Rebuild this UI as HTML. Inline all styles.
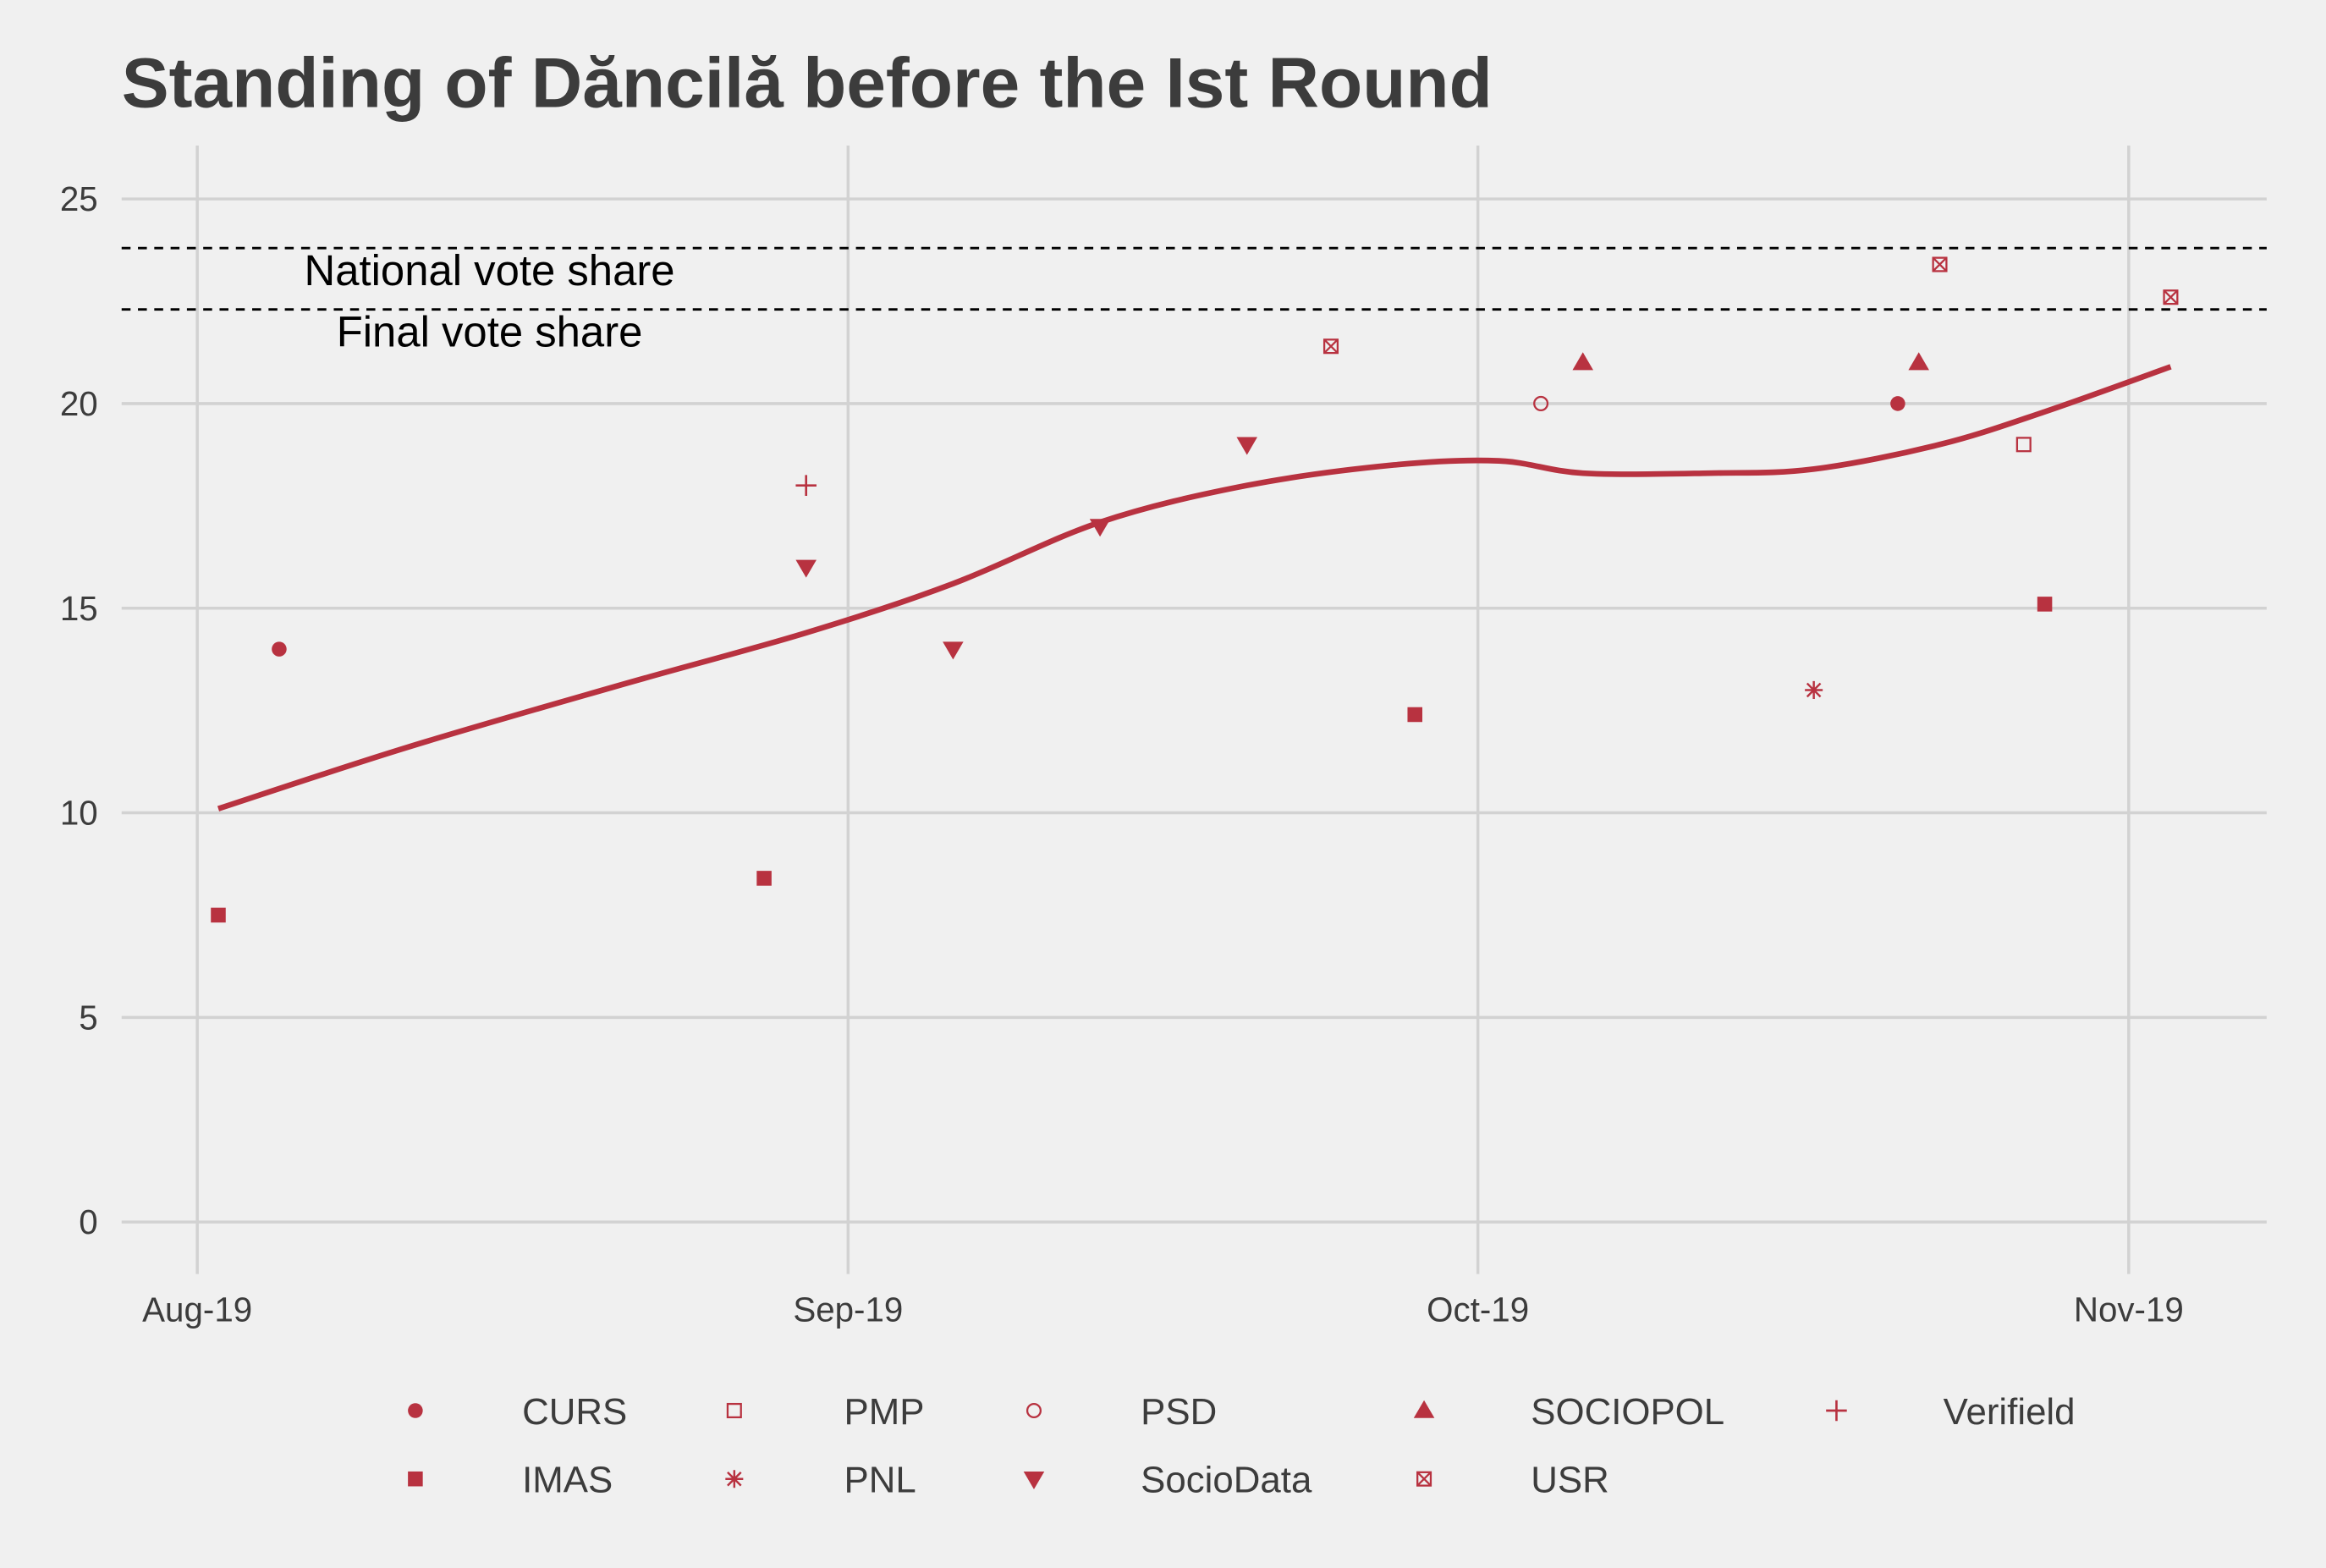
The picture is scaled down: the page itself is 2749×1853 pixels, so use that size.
<!DOCTYPE html>
<html><head><meta charset="utf-8">
<style>
html,body{margin:0;padding:0;background:#f0f0f0;}
svg{display:block;}
text{font-family:"Liberation Sans",Arial,sans-serif;}
</style></head>
<body>
<svg id="chart" width="2749" height="1853" viewBox="0 0 1568 1056" preserveAspectRatio="none" xmlns="http://www.w3.org/2000/svg">
<rect x="0" y="0" width="1568" height="1056" fill="#f0f0f0"/>
<text x="82" y="72" font-size="47.8" font-weight="bold" fill="#3c3c3c">Standing of Dăncilă before the Ist Round</text>
<g id="grid"></g>
<g id="marks"></g>
<g id="legend"></g>
</svg>
<script>
// Data (days since Aug 1 2019)
const pollsters = ["IMAS","CURS","IMAS","Verifield","SocioData","SocioData","SocioData","SocioData","USR","IMAS","PSD","SOCIOPOL","PNL","CURS","SOCIOPOL","USR","PMP","IMAS","USR"];
const pollDays = [1,3.9,27,29,29,36,43,50,54,58,64,66,77,81,82,83,87,88,94];
const pollValues = [7.5,14,8.4,18,16,14,17,19,21.4,12.4,20,21,13,20,21,23.4,19,15.1,22.6];
const trendDays = [1,10,20,29,36,43,50,57,62,66,72,77,83,88,94];
const trendValues = [10.1,11.6,13.1,14.4,15.6,17.1,18.0,18.5,18.6,18.3,18.3,18.4,19.0,19.8,20.9];
const yTicks = [0,5,10,15,20,25];
const xTickDays = [0,31,61,92];
const xTickLabels = ["Aug-19","Sep-19","Oct-19","Nov-19"];
const refValues = [23.8,22.3];
const refLabels = ["National vote share","Final vote share"];
const legendItems = ["CURS","PMP","PSD","SOCIOPOL","Verifield","IMAS","PNL","SocioData","USR"];

const NS="http://www.w3.org/2000/svg";
const C="#b83240";
const X=d=>133+d*(1435-133)/92;
const Y=v=>823-v*(823-134)/25;
function el(tag,attrs,parent){const e=document.createElementNS(NS,tag);for(const k in attrs)e.setAttribute(k,attrs[k]);parent.appendChild(e);return e;}
const grid=document.getElementById('grid'),marks=document.getElementById('marks'),legend=document.getElementById('legend');

yTicks.forEach(v=>{
  const l=el('line',{x1:82,x2:1528,y1:Y(v),y2:Y(v),stroke:'#d2d2d2','stroke-width':2},grid);
  
  
  const t=el('text',{x:66,y:Y(v)+8,'font-size':23,fill:'#3c3c3c','text-anchor':'end'},grid);
  t.textContent=v;
  
  
});
xTickDays.forEach((d,i)=>{
  const l=el('line',{x1:X(d),x2:X(d),y1:98,y2:858,stroke:'#d2d2d2','stroke-width':2},grid);
  
  
  const t=el('text',{x:X(d),y:890,'font-size':23,fill:'#3c3c3c','text-anchor':'middle'},grid);
  t.textContent=xTickLabels[i];
  
  
});
refValues.forEach((v,i)=>{
  const l=el('line',{x1:82,x2:1528,y1:Y(v),y2:Y(v),stroke:'#000','stroke-width':1.6,'stroke-dasharray':'6,5'},marks);
  
  
  const t=el('text',{x:330,y:Y(v)+25,'font-size':29,fill:'#000','text-anchor':'middle'},marks);
  t.textContent=refLabels[i];
  
  
});
// trend line (Catmull-Rom)
const pts=trendDays.map((d,i)=>[X(d),Y(trendValues[i])]);
let dstr=`M${pts[0][0]},${pts[0][1]}`;
for(let i=0;i<pts.length-1;i++){
  const p0=pts[Math.max(0,i-1)],p1=pts[i],p2=pts[i+1],p3=pts[Math.min(pts.length-1,i+2)];
  dstr+=` C${p1[0]+(p2[0]-p0[0])/6},${p1[1]+(p2[1]-p0[1])/6} ${p2[0]-(p3[0]-p1[0])/6},${p2[1]-(p3[1]-p1[1])/6} ${p2[0]},${p2[1]}`;
}
const tl=el('path',{d:dstr,fill:'none',stroke:C,'stroke-width':3.8},marks);



function marker(name,x,y,parent){
  const g=el('g',{},parent);
  switch(name){
    case 'CURS': el('circle',{cx:x,cy:y,r:5,fill:C},g);break;
    case 'PMP': el('rect',{x:x-4.5,y:y-4.5,width:9,height:9,fill:'none',stroke:C,'stroke-width':1.3},g);break;
    case 'PSD': el('circle',{cx:x,cy:y,r:4.5,fill:'none',stroke:C,'stroke-width':1.3},g);break;
    case 'SOCIOPOL': el('polygon',{points:`${x},${y-7} ${x-7},${y+5} ${x+7},${y+5}`,fill:C},g);break;
    case 'Verifield': el('path',{d:`M${x-7},${y}H${x+7}M${x},${y-7}V${y+7}`,stroke:C,'stroke-width':1.5},g);break;
    case 'IMAS': el('rect',{x:x-5,y:y-5,width:10,height:10,fill:C},g);break;
    case 'PNL': el('path',{d:`M${x-6},${y}H${x+6}M${x},${y-6}V${y+6}M${x-4.5},${y-4.5}L${x+4.5},${y+4.5}M${x-4.5},${y+4.5}L${x+4.5},${y-4.5}`,stroke:C,'stroke-width':1.4},g);break;
    case 'SocioData': el('polygon',{points:`${x},${y+7} ${x-7},${y-5} ${x+7},${y-5}`,fill:C},g);break;
    case 'USR': el('rect',{x:x-4.5,y:y-4.5,width:9,height:9,fill:'none',stroke:C,'stroke-width':1.3},g);
      el('path',{d:`M${x-4.5},${y-4.5}L${x+4.5},${y+4.5}M${x-4.5},${y+4.5}L${x+4.5},${y-4.5}`,stroke:C,'stroke-width':1.3},g);break;
  }
  return g;
}
pollDays.forEach((d,i)=>{
  const g=marker(pollsters[i],X(d),Y(pollValues[i]),marks);
  
  
});
const legX=[280,495,697,960,1238],legLX=[352,569,769,1032,1310],legY=[950,996];
legendItems.forEach((n,i)=>{
  const r=Math.floor(i/5),c=i%5;
  const g=el('g',{},legend);
  
  
  marker(n,legX[c],legY[r],g);
  const t=el('text',{x:legLX[c],y:legY[r]+9,'font-size':25,fill:'#3c3c3c'},g);
  t.textContent=n;
});
</script>
</body></html>
